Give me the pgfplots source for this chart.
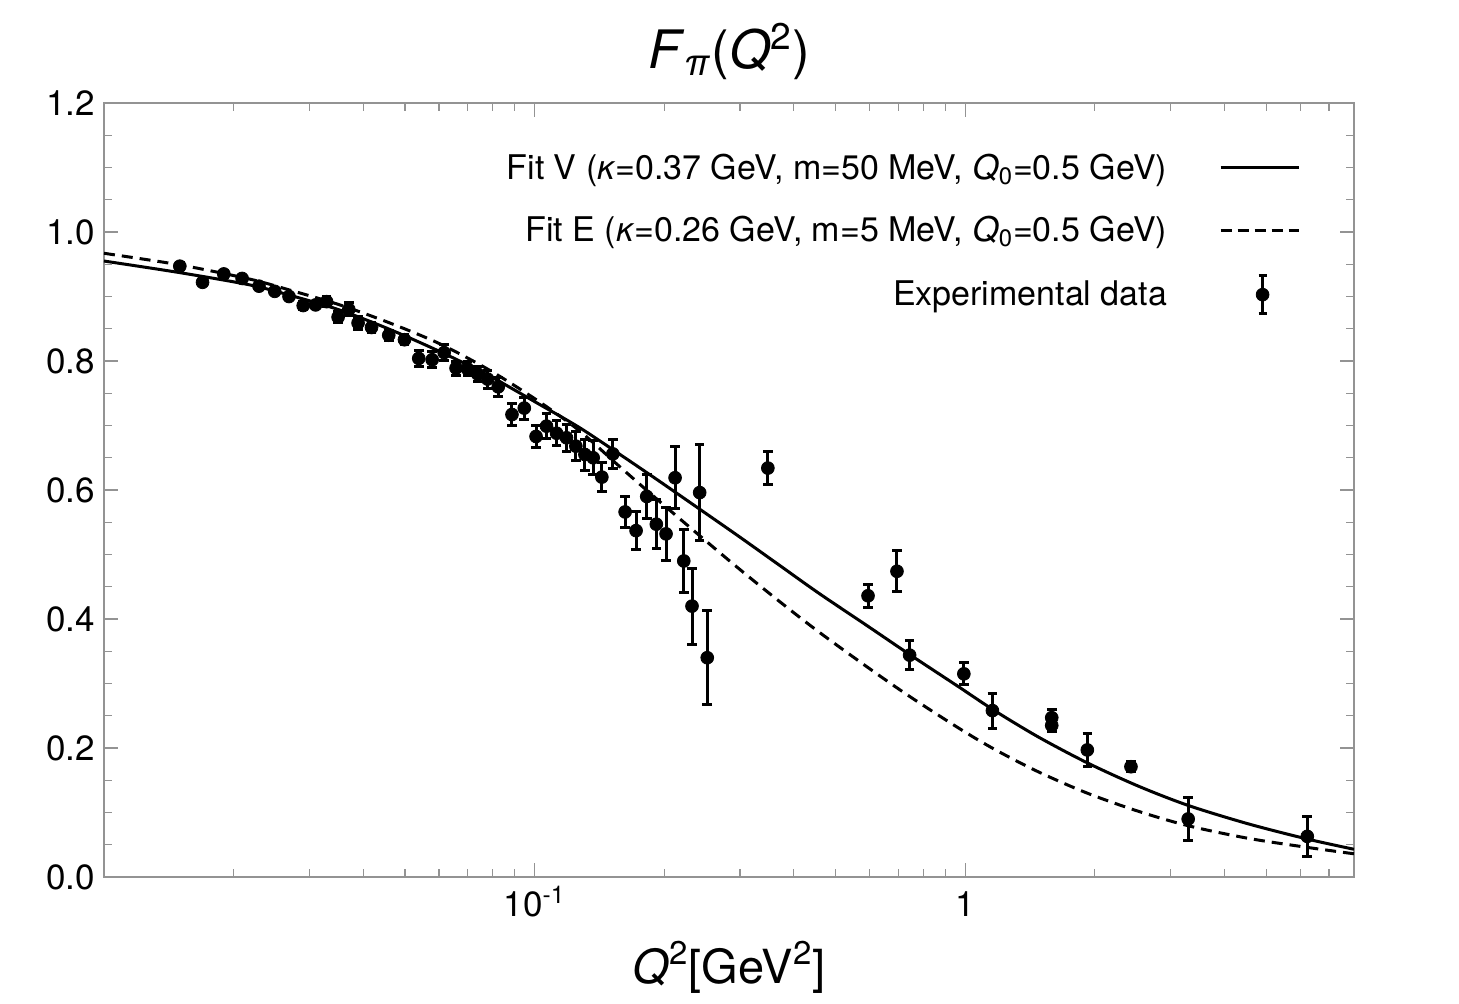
\documentclass[border=0pt]{standalone}
\usepackage{fontspec}
\setmainfont{TeX Gyre Heros}
\usepackage{pgfplots}
\pgfplotsset{compat=1.18}
\usepackage{pgfplotstable}

% Measured pion form factor: Q^2 [GeV^2], F, uncertainty
\pgfplotstableread{
x y e
0.01500 0.947 0.005
0.01694 0.922 0.005
0.01898 0.935 0.005
0.02093 0.928 0.005
0.02291 0.916 0.005
0.02492 0.908 0.005
0.02690 0.900 0.005
0.02902 0.886 0.006
0.03101 0.887 0.006
0.03289 0.892 0.008
0.03497 0.868 0.008
0.03703 0.880 0.010
0.03892 0.859 0.010
0.04182 0.852 0.008
0.04585 0.840 0.008
0.04987 0.833 0.008
0.05383 0.804 0.012
0.05783 0.802 0.012
0.06166 0.813 0.012
0.06572 0.789 0.011
0.06982 0.788 0.011
0.07375 0.780 0.012
0.07780 0.772 0.014
0.08235 0.760 0.015
0.08862 0.717 0.017
0.09465 0.727 0.017
0.1008 0.683 0.017
0.1066 0.699 0.019
0.1125 0.688 0.019
0.1186 0.681 0.021
0.1247 0.668 0.022
0.1309 0.655 0.024
0.1368 0.650 0.026
0.1433 0.620 0.022
0.1520 0.656 0.023
0.1623 0.566 0.024
0.1721 0.537 0.030
0.1822 0.590 0.034
0.1918 0.547 0.038
0.2020 0.532 0.041
0.2120 0.619 0.048
0.2221 0.490 0.049
0.2321 0.420 0.059
0.2418 0.596 0.075
0.2518 0.340 0.073
0.3482 0.634 0.025
0.5949 0.436 0.018
0.6945 0.474 0.032
0.7432 0.344 0.022
0.9931 0.315 0.017
1.157 0.258 0.027
1.589 0.247 0.012
1.589 0.235 0.010
1.922 0.197 0.025
2.427 0.171 0.008
3.296 0.090 0.034
6.232 0.063 0.031
}\expdata

% Fit V
\pgfplotstableread{
x y
0.0100 0.955
0.0150 0.937
0.0218 0.918
0.0270 0.902
0.0353 0.879
0.0461 0.849
0.0601 0.815
0.0785 0.777
0.1025 0.733
0.1270 0.697
0.1572 0.656
0.1946 0.614
0.2410 0.571
0.2983 0.528
0.3693 0.484
0.4572 0.440
0.5970 0.388
0.7432 0.345
0.9654 0.295
1.170 0.258
1.480 0.217
1.922 0.177
2.523 0.141
3.296 0.111
4.541 0.0825
6.222 0.059
8.000 0.043
}\fitV

% Fit E
\pgfplotstableread{
x y
0.0100 0.967
0.0150 0.949
0.0218 0.927
0.0270 0.910
0.0353 0.887
0.0461 0.859
0.0601 0.827
0.0785 0.786
0.1025 0.737
0.1270 0.692
0.1572 0.637
0.1946 0.583
0.2410 0.530
0.2983 0.478
0.3693 0.428
0.4572 0.380
0.5970 0.324
0.7432 0.280
0.9654 0.231
1.170 0.198
1.480 0.163
1.922 0.130
2.523 0.102
3.296 0.0795
4.541 0.060
6.222 0.046
8.000 0.036
}\fitE

\begin{document}
\begin{tikzpicture}
\begin{axis}[
  name=main,
  scale only axis, width=625pt, height=387pt,
  xmode=log, xmin=0.01, xmax=8, ymin=0, ymax=1.2,
  xtick={0.1,1}, xticklabels={10\textsuperscript{-1},1},
  minor xtick={0.02,0.03,0.04,0.05,0.06,0.07,0.08,0.09,0.2,0.3,0.4,0.5,0.6,0.7,0.8,0.9,2,3,4,5,6,7},
  ytick={0,0.2,0.4,0.6,0.8,1.0,1.2}, minor y tick num=3,
  ticklabel style={font=\fontsize{17.5}{20}\selectfont, black},
  yticklabel style={xshift=-1pt, /pgf/number format/.cd, fixed, fixed zerofill, precision=1, assume math mode=true},
  xticklabel style={anchor=base, yshift=-19.5pt},
  major tick length=7pt, minor tick length=4pt,
  axis line style={gray!85, line width=0.6pt},
  every tick/.style={gray!85, line width=0.6pt},
  title={\textit{F}\textsubscript{\textit{π}}(\textit{Q}\textsuperscript{2})},
  title style={at={(0.5,1)}, anchor=base, yshift=11.5pt, font=\fontsize{26.5}{30}\selectfont},
  xlabel={\textit{Q}\textsuperscript{2}[GeV\textsuperscript{2}]},
  xlabel style={at={(0.5,0)}, anchor=base, yshift=-53pt, font=\fontsize{23.5}{28}\selectfont},
  legend plot pos=right,
  legend cell align=right,
  legend style={draw=none, fill=none, at={(0.962,0.9453)}, anchor=north east,
    font=\fontsize{17}{20}\selectfont, row sep=12.9pt, column sep=24pt},
]
\addplot[black, line width=1.5pt, smooth,
  legend image code/.code={\draw[black, line width=1.5pt] (0pt,0pt) -- (39pt,0pt);}]
  table[x=x, y=y] {\fitV};
\addlegendentry{Fit V (\textit{κ}=0.37 GeV, m=50 MeV, \textit{Q}\textsubscript{0}=0.5 GeV)}

\addplot[black, line width=1.5pt, smooth, dash pattern=on 5.5pt off 3.5pt,
  legend image code/.code={\draw[black, line width=1.5pt, dash pattern=on 5.5pt off 3pt] (0pt,0pt) -- (39pt,0pt);}]
  table[x=x, y=y] {\fitE};
\addlegendentry{Fit E (\textit{κ}=0.26 GeV, m=5 MeV, \textit{Q}\textsubscript{0}=0.5 GeV)}

\addplot[black, only marks, mark=*, mark size=3.2pt,
  legend image code/.code={
    \draw[black, line width=1.5pt] (21pt,-9.5pt) -- (21pt,9.5pt);
    \draw[black, line width=1.5pt] (19pt,-9.5pt) -- (23pt,-9.5pt);
    \draw[black, line width=1.5pt] (19pt,9.5pt) -- (23pt,9.5pt);
    \fill[black] (21pt,0pt) circle (3.2pt);},
  error bars/.cd, y dir=both, y explicit, error mark=|,
  error bar style={line width=1.5pt, black},
  error mark options={black, line width=1.5pt, mark size=2.4pt}]
  table[x=x, y=y, y error=e] {\expdata};
\addlegendentry{Experimental data}
\end{axis}
\pgfresetboundingbox
\path (main.south west) ++(-52pt,-63pt) rectangle ([xshift=52.5pt,yshift=51.5pt]main.north east);
\end{tikzpicture}
\end{document}
